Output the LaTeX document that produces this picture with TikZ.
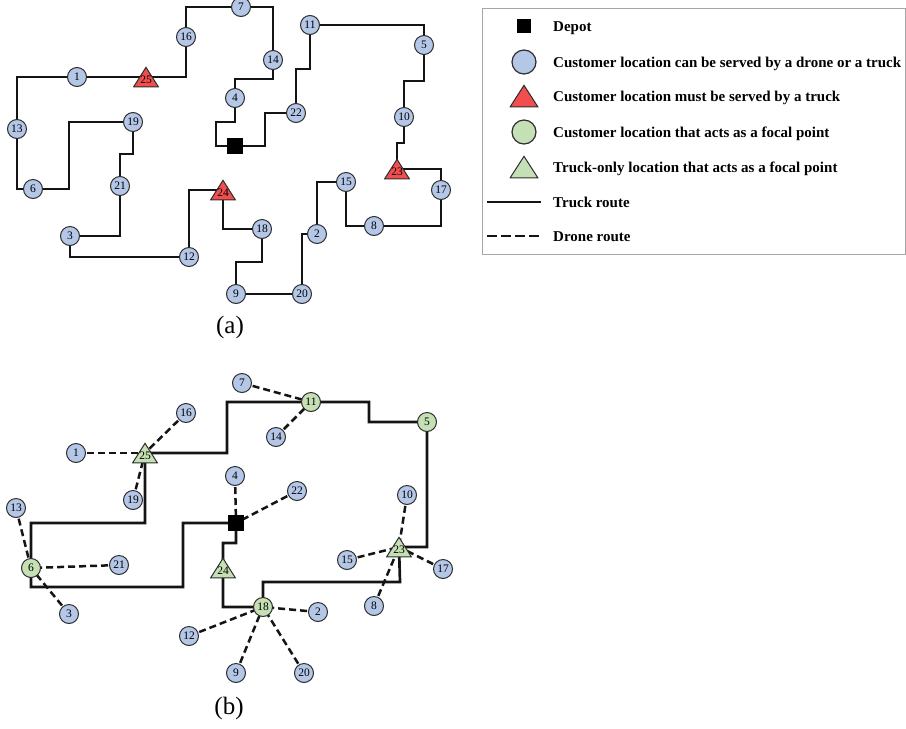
\documentclass[tikz,border=0pt]{standalone}
\usepackage{fontspec}
\setmainfont{Liberation Serif}
\usetikzlibrary{backgrounds}
\definecolor{cblue}{RGB}{180,199,231}
\definecolor{cred}{RGB}{242,78,78}
\definecolor{cgreen}{RGB}{197,224,180}
\definecolor{cline}{RGB}{20,20,20}
\definecolor{cborder}{RGB}{45,45,45}
\begin{document}
\begin{tikzpicture}[x=1pt,y=-1pt,
  cust/.style={circle, draw=cborder, line width=1pt, fill=cblue, minimum size=19pt, inner sep=0pt, font=\fontsize{11.5}{11.5}\selectfont},
  focal/.style={cust, fill=cgreen},
  tri/.style={rectangle, inner sep=0pt, minimum width=26pt, minimum height=21pt, text height=13pt, text depth=0pt, font=\fontsize{11.5}{11.5}\selectfont,
     path picture={\draw[draw=cborder, line width=1pt, fill=#1] ([shift={(0.6pt,0.6pt)}]path picture bounding box.south west) -- ([shift={(-0.6pt,0.6pt)}]path picture bounding box.south east) -- ([shift={(0pt,-0.8pt)}]path picture bounding box.north) -- cycle;}},
  depot/.style={rectangle, fill=black, minimum size=16pt, inner sep=0pt},
  truck/.style={draw=cline, line width=2.7pt, line join=miter},
  drone/.style={draw=cline, line width=2.5pt, dash pattern=on 7pt off 4pt},
  lgtext/.style={anchor=west, font=\fontsize{15}{15}\selectfont\bfseries, text height=10pt, text depth=0pt, inner sep=0pt},
  caption/.style={font=\fontsize{25}{25}\selectfont}
]
\useasboundingbox (0,0) rectangle (906,729);

% ---------------- (a) ----------------
\node[depot] (a0) at (235,146) {};
\node[cust] (a1) at (77,77) {1};
\node[cust] (a2) at (317,234) {2};
\node[cust] (a3) at (70,236) {3};
\node[cust] (a4) at (235,98) {4};
\node[cust] (a5) at (424,45) {5};
\node[cust] (a6) at (33,189) {6};
\node[cust] (a7) at (241,7) {7};
\node[cust] (a8) at (374,226) {8};
\node[cust] (a9) at (236,294) {9};
\node[cust] (a10) at (404,117) {10};
\node[cust] (a11) at (310,25) {11};
\node[cust] (a12) at (189,257) {12};
\node[cust] (a13) at (17,129) {13};
\node[cust] (a14) at (273,60) {14};
\node[cust] (a15) at (346,182) {15};
\node[cust] (a16) at (186,37) {16};
\node[cust] (a17) at (441,190) {17};
\node[cust] (a18) at (262,229) {18};
\node[cust] (a19) at (133,122) {19};
\node[cust] (a20) at (302,294) {20};
\node[cust] (a21) at (120,186) {21};
\node[cust] (a22) at (296,113) {22};
\node[tri=cred] (a23) at (397,169) {23};
\node[tri=cred] (a24) at (223,190) {24};
\node[tri=cred] (a25) at (146,77) {25};

\begin{scope}[on background layer]
\draw[truck] (a0.center) -- (216,146) -- (216,122) -- (235,122) -- (a4.center) -- (235,79) -- (273,79) -- (a14.center) -- (273,7) -- (a7.center) -- (186,7) -- (a16.center) -- (186,77) -- (a25.center) -- (a1.center) -- (17,77) -- (a13.center) -- (17,189) -- (a6.center) -- (69,189) -- (69,122) -- (a19.center) -- (133,154) -- (120,154) -- (a21.center) -- (120,236) -- (a3.center) -- (70,257) -- (a12.center) -- (189,190) -- (a24.center) -- (223,229) -- (a18.center) -- (262,262) -- (236,262) -- (a9.center) -- (a20.center) -- (302,234) -- (a2.center) -- (317,182) -- (a15.center) -- (346,226) -- (a8.center) -- (441,226) -- (a17.center) -- (441,169) -- (a23.center) -- (397,143) -- (404,143) -- (a10.center) -- (404,81) -- (424,81) -- (a5.center) -- (424,25) -- (a11.center) -- (310,69) -- (296,69) -- (a22.center) -- (265,113) -- (265,146) -- cycle;
\end{scope}

\node[caption] (capa) at (230,327) {(a)};

% ---------------- (b) ----------------
\node[depot] (b0) at (236,523) {};
\node[cust] (b1) at (76,453) {1};
\node[cust] (b2) at (318,612) {2};
\node[cust] (b3) at (69,614) {3};
\node[cust] (b4) at (235,476) {4};
\node[focal] (b5) at (427,422) {5};
\node[focal] (b6) at (31,568) {6};
\node[cust] (b7) at (242,383) {7};
\node[cust] (b8) at (374,606) {8};
\node[cust] (b9) at (236,673) {9};
\node[cust] (b10) at (407,495) {10};
\node[focal] (b11) at (311,402) {11};
\node[cust] (b12) at (189,636) {12};
\node[cust] (b13) at (16,508) {13};
\node[cust] (b14) at (276,437) {14};
\node[cust] (b15) at (347,560) {15};
\node[cust] (b16) at (186,413) {16};
\node[cust] (b17) at (443,569) {17};
\node[focal] (b18) at (263,607) {18};
\node[cust] (b19) at (133,500) {19};
\node[cust] (b20) at (304,673) {20};
\node[cust] (b21) at (119,565) {21};
\node[cust] (b22) at (297,491) {22};
\node[tri=cgreen] (b23) at (399,547) {23};
\node[tri=cgreen] (b24) at (223,568) {24};
\node[tri=cgreen] (b25) at (145,453) {25};

\begin{scope}[on background layer]
\draw[truck] (b0.center) -- (183,523) -- (183,587) -- (31,587) -- (b6.center) -- (31,523) -- (145,523) -- (b25.center) -- (227,453) -- (227,402) -- (b11.center) -- (369,402) -- (369,422) -- (b5.center) -- (427,547) -- (b23.center) -- (400,582) -- (263,582) -- (b18.center) -- (223,607) -- (b24.center) -- (223,543) -- (236,543) -- cycle;
\draw[drone] (b1.center) -- (b25.center);
\draw[drone] (b16.center) -- (b25.center);
\draw[drone] (b19.center) -- (b25.center);
\draw[drone] (b13.center) -- (b6.center);
\draw[drone] (b21.center) -- (b6.center);
\draw[drone] (b3.center) -- (b6.center);
\draw[drone] (b4.center) -- (b0.center);
\draw[drone] (b22.center) -- (b0.center);
\draw[drone] (b7.center) -- (b11.center);
\draw[drone] (b14.center) -- (b11.center);
\draw[drone] (b10.center) -- (b23.center);
\draw[drone] (b15.center) -- (b23.center);
\draw[drone] (b17.center) -- (b23.center);
\draw[drone] (b8.center) -- (b23.center);
\draw[drone] (b12.center) -- (b18.center);
\draw[drone] (b2.center) -- (b18.center);
\draw[drone] (b9.center) -- (b18.center);
\draw[drone] (b20.center) -- (b18.center);
\end{scope}

\node[caption] (capb) at (229,708) {(b)};

% ---------------- legend ----------------
\node[draw=gray!70, line width=0.9pt, minimum width=423pt, minimum height=246pt, inner sep=0pt] (legend) at (693.5,131) {};
\node[depot, minimum size=14pt] (lgdepot) at (524,26) {};
\node[cust, minimum size=24pt, line width=1.2pt] (lgcust) at (524,62) {};
\node[tri=cred, minimum width=29pt, minimum height=23pt] (lgred) at (524,96) {};
\node[focal, minimum size=24pt, line width=1.2pt] (lgfocal) at (524,132) {};
\node[tri=cgreen, minimum width=29pt, minimum height=23pt] (lggreen) at (524,167) {};
\coordinate (lgt1) at (487,202);
\coordinate (lgt2) at (541,202);
\draw[truck] (lgt1) -- (lgt2);
\coordinate (lgd1) at (487,236);
\coordinate (lgd2) at (541,236);
\draw[draw=cline, line width=2.7pt, dash pattern=on 9.5pt off 4.5pt] (lgd1) -- (lgd2);
\node[lgtext] (t1) at (553,26) {Depot};
\node[lgtext] (t2) at (553,62) {Customer location can be served by a drone or a truck};
\node[lgtext] (t3) at (553,96) {Customer location must be served by a truck};
\node[lgtext] (t4) at (553,132) {Customer location that acts as a focal point};
\node[lgtext] (t5) at (553,167) {Truck-only location that acts as a focal point};
\node[lgtext] (t6) at (553,202) {Truck route};
\node[lgtext] (t7) at (553,236) {Drone route};
\end{tikzpicture}
\end{document}
